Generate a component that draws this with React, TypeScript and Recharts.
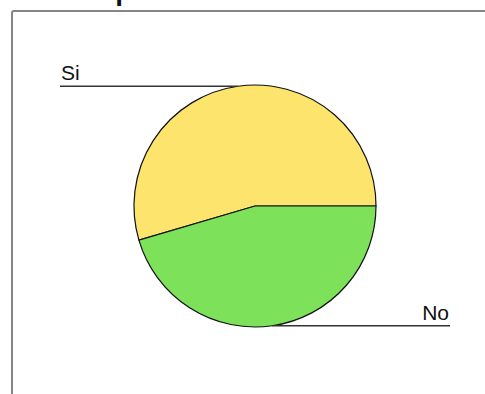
import React from 'react';
import { PieChart, Pie, Cell } from 'recharts';

const categories = ['Si', 'No'];
const values = [6, 5];
const colors = ['#FDE46C', '#7EE15A'];
const title = 'Subtopic';

const data = categories.map((name, i) => ({ name, value: values[i] }));

const RAD = Math.PI / 180;

const renderLabel = (props: any) => {
  const { cx, cy, midAngle, outerRadius, name } = props;
  const px = cx + outerRadius * Math.cos(-midAngle * RAD);
  const py = cy + outerRadius * Math.sin(-midAngle * RAD);
  const left = px < cx;
  const endX = left ? 60 : 450;
  return (
    <g>
      <line x1={px} y1={py} x2={endX} y2={py} stroke="#333" strokeWidth={1.5} />
      <text
        x={left ? endX + 1 : endX - 1}
        y={py - 6}
        textAnchor={left ? 'start' : 'end'}
        fontFamily="'Liberation Sans', Arial, sans-serif"
        fontSize={21}
        fill="#111"
      >
        {name}
      </text>
    </g>
  );
};

export default function App() {
  return (
    <div style={{ position: 'fixed', left: 0, top: 0, width: 485, height: 394, overflow: 'hidden', background: '#fff' }}>
      <div
        style={{
          position: 'absolute',
          left: 36,
          top: -23,
          fontFamily: "'Liberation Sans', Arial, sans-serif",
          fontWeight: 'bold',
          fontSize: 28,
          lineHeight: '28px',
          color: '#111',
          whiteSpace: 'nowrap',
        }}
      >
        {title}
      </div>
      <div
        style={{
          position: 'absolute',
          left: 11,
          top: 10,
          width: 520,
          height: 440,
          border: '2px solid #858585',
          borderRadius: 3,
        }}
      />
      <div style={{ position: 'absolute', left: 0, top: 0 }}>
        <PieChart width={485} height={394} margin={{ top: 0, right: 0, bottom: 0, left: 0 }}>
          <Pie
            data={data}
            dataKey="value"
            nameKey="name"
            cx={255}
            cy={206}
            outerRadius={121}
            startAngle={0}
            endAngle={360}
            stroke="#111"
            strokeWidth={1.2}
            label={renderLabel}
            labelLine={false}
            isAnimationActive={false}
          >
            {data.map((d, i) => (
              <Cell key={d.name} fill={colors[i]} />
            ))}
          </Pie>
        </PieChart>
      </div>
    </div>
  );
}
